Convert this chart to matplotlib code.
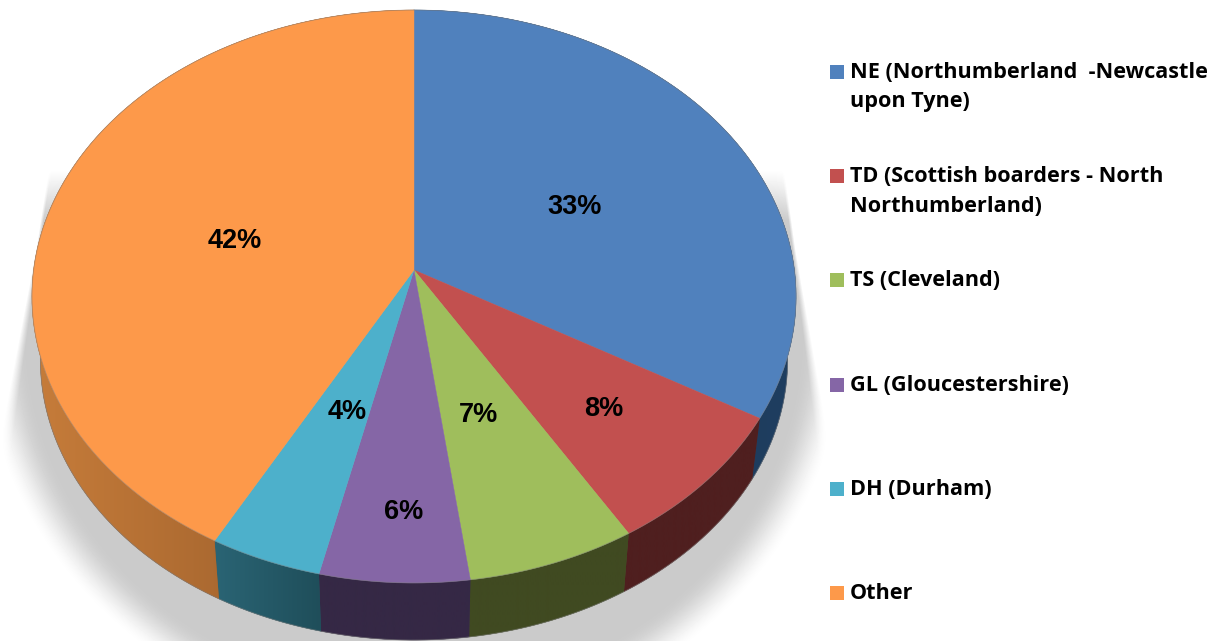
import numpy as np
import matplotlib
matplotlib.use('Agg')
import matplotlib.pyplot as plt
from matplotlib.colors import to_rgb
from matplotlib.patches import Polygon

# chart data
labels = ['NE (Northumberland  -Newcastle\nupon Tyne)', 'TD (Scottish boarders - North\nNorthumberland)',
          'TS (Cleveland)', 'GL (Gloucestershire)', 'DH (Durham)', 'Other']
values = [33.3, 8.0, 6.55, 5.8, 4.35, 42.0]

# styles
top_colors = ['#5081BD', '#C2504F', '#9FBE5C', '#8566A6', '#4DB0CB', '#FD994A']
side_left = ['#1C3352', '#4F1F1F', '#404A21', '#352845', '#2A6474', '#C67C3A']
side_right = ['#1F3E60', '#4F1F1F', '#404A21', '#352845', '#1F4E5A', '#8F5627']
label_r = [0.50, 0.655, 0.51, 0.78, 0.51, 0.49]
label_dx = [0, 3, -3, 5, 6, -1]
label_dy = [7, 3, 2, 4, 1, 5]

# geometry of the tilted disc, in image pixels
cx, cy = 414, 270
rx, ry, k = 380.4, 284, 0.0925
side_scale, side_h = 0.978, 64


def project(theta, r=1.0):
    # theta is clockwise from twelve o'clock
    u = r * np.sin(theta)
    v = r * np.cos(theta)
    w = 1 + k * v
    return cx + rx * u / w, cy - ry * v / w


def project_low(theta):
    x, y = project(theta)
    return cx + (x - cx) * side_scale, cy + (y - cy) * side_scale + side_h


fig = plt.figure(figsize=(12.17, 6.41), dpi=100)
ax = fig.add_axes([0, 0, 1, 1])
ax.set_xlim(0, 1217)
ax.set_ylim(641, 0)
ax.axis('off')

# soft drop shadow behind the disc
xx, yy = np.meshgrid(np.arange(1217) + 0.5, np.arange(641) + 0.5)
d = np.sqrt(((xx - 414) / 436) ** 2 + ((yy - 330) / 407) ** 2)
t = np.clip((1.0 - d) / 0.11, 0, 1)
shade = t * t * (3 - 2 * t)
soft = 3 + np.clip(yy - 250, 0, None) * 0.05
left_x = 35 - (yy - 270) * 0.156
right_x = 795 + (yy - 260) * 0.14
shade = shade * np.clip((xx - left_x + soft * 0.7) / soft, 0, 1) * np.clip((right_x - xx + soft * 0.7) / soft, 0, 1)
shade = shade * np.clip((yy - 170) / 50, 0, 1)
ax.imshow(255 - shade * 52, cmap='gray', vmin=0, vmax=255, extent=(0, 1217, 641, 0),
          aspect='auto', zorder=1)

edges = np.cumsum([0] + values) / sum(values) * 2 * np.pi

# side wall, a horizontal colour ramp clipped to each slice
for i in range(len(values)):
    thetas = np.linspace(edges[i], edges[i + 1], 120)
    x0, y0 = project(thetas)
    x1, y1 = project_low(thetas)
    px = np.r_[x0, x1[::-1]]
    py = np.r_[y0, y1[::-1]]
    ax.fill(px, py, color=side_right[i], lw=0.3, zorder=2)
    # only the part below the top face counts for the ramp
    front = np.cos(thetas) < 0.1
    ramp = np.linspace(0, 1, 64)[:, None]
    img = (np.array(to_rgb(side_left[i])) * (1 - ramp) + np.array(to_rgb(side_right[i])) * ramp)[None, :, :]
    im = ax.imshow(img, extent=(px[np.r_[front, front]].min(), px[np.r_[front, front]].max(), 641, 0),
                   aspect='auto', interpolation='bilinear', zorder=2.1)
    im.set_clip_path(Polygon(np.c_[px, py], transform=ax.transData))

# rim of the wall
rim = np.linspace(0, 2 * np.pi, 400)
xl, yl = project_low(rim)
ax.plot(xl, yl, color='#808080', lw=0.6, alpha=0.6, zorder=2.5)

# top face
for i in range(len(values)):
    thetas = np.linspace(edges[i], edges[i + 1], 120)
    x, y = project(thetas)
    ax.fill(np.r_[cx, x], np.r_[cy, y], color=top_colors[i], lw=0.3, zorder=3)
xt, yt = project(rim)
ax.plot(xt, yt, color='#808080', lw=0.6, alpha=0.5, zorder=3.5)

# data labels
for i, val in enumerate(values):
    mid = (edges[i] + edges[i + 1]) / 2
    x, y = project(mid, label_r[i])
    ax.text(x + label_dx[i], y + label_dy[i], f'{int(val + 0.5)}%', ha='center', va='center', fontsize=19.5,
            fontweight='bold', family='Liberation Sans', color='black', zorder=4)

# legend
legend_top = 72
legend_step = 104.2
for i, name in enumerate(labels):
    y = legend_top + i * legend_step
    ax.add_patch(plt.Rectangle((830, y - 7), 14, 14, color=top_colors[i], lw=0, zorder=4))
    ax.text(849.5, y - 10, name, ha='left', va='top', fontsize=15.6, fontweight='bold',
            family='Open Sans', color='black', linespacing=1.53, zorder=4)

ax.set_xlim(0, 1217)
ax.set_ylim(641, 0)
fig.savefig('out.png', dpi=100)
